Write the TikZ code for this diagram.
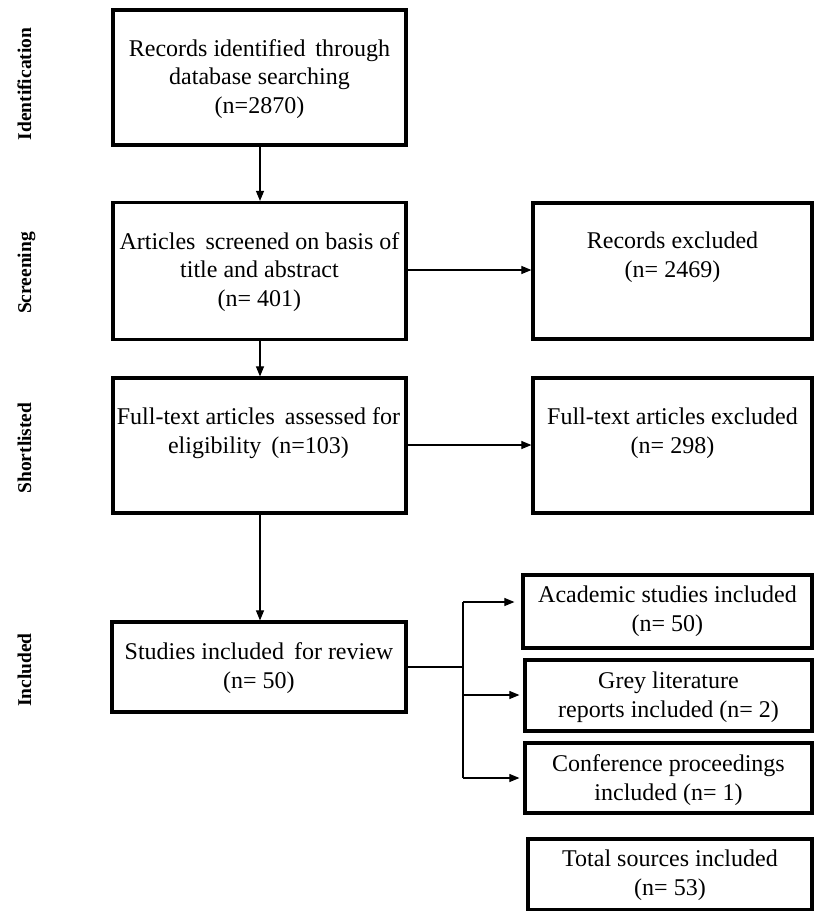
\documentclass[tikz,border=0pt]{standalone}
\usepackage{fontspec}
\setmainfont{Liberation Serif}
\usetikzlibrary{arrows.meta}
\begin{document}
\begin{tikzpicture}[x=1pt,y=-1pt,
  box/.style={draw=black,line width=3.2pt,minimum width=#1,inner sep=0pt},
  boxtext/.style={align=center,font=\fontsize{24}{28.5}\selectfont,inner sep=0pt},
  phase/.style={rotate=90,anchor=base,font=\fontsize{19.5}{22}\selectfont\bfseries,inner sep=0pt},
  flow/.style={line width=1.1pt,-{Triangle[length=10pt,width=8pt]}},
  link/.style={line width=1.1pt}]
\useasboundingbox (0,0) rectangle (814,911);

% phase labels
\node[phase] (lid) at (31,84) {Identification};
\node[phase] (lsc) at (31,273) {Screening};
\node[phase] (lsh) at (31,448) {Shortlisted};
\node[phase] (lin) at (31,670) {Included};

% main column
\node[box=293pt,minimum height=135pt] (ident) at (259.5,77.5) {};
\node[boxtext] (tident) at (259.5,79) {Records identified\, through\\database searching\\(n=2870)};

\node[box=293pt,minimum height=137pt] (screen) at (259.5,271) {};
\node[boxtext] (tscreen) at (259.5,272) {Articles\, screened on basis of\\title and abstract\\(n= 401)};

\node[box=293pt,minimum height=135pt] (short) at (259.5,445.5) {};
\node[boxtext] (tshort) at (258.5,433) {Full-text articles\, assessed for\\eligibility\, (n=103)};

\node[box=294pt,minimum height=90pt] (incl) at (259,667) {};
\node[boxtext] (tincl) at (259,668) {Studies included\, for review\\(n= 50)};

% exclusions
\node[box=279pt,minimum height=136pt] (excl) at (672.5,271) {};
\node[boxtext] (texcl) at (672.5,257) {Records excluded\\(n= 2469)};

\node[box=279pt,minimum height=135pt] (fexcl) at (672.5,445.5) {};
\node[boxtext] (tfexcl) at (672.5,433) {Full-text articles excluded\\(n= 298)};

% included sources
\node[box=289pt,minimum height=73pt] (acad) at (667.5,611.5) {};
\node[boxtext] (tacad) at (667.5,611) {Academic studies included\\(n= 50)};

\node[box=287pt,minimum height=71pt] (grey) at (668.5,695.5) {};
\node[boxtext] (tgrey) at (668.5,697) {Grey literature\\reports included (n= 2)};

\node[box=287pt,minimum height=70pt] (conf) at (668.5,778) {};
\node[boxtext] (tconf) at (668.5,780) {Conference proceedings\\included (n= 1)};

\node[box=284pt,minimum height=71pt] (total) at (670,874.5) {};
\node[boxtext] (ttotal) at (670,875) {Total sources included\\(n= 53)};

% connectors
\draw[flow] (ident.south -| 260,0) -- (screen.north -| 260,0);
\draw[flow] (screen.south -| 260,0) -- (short.north -| 260,0);
\draw[flow] (short.south -| 260,0) -- (incl.north -| 260,0);
\draw[flow] (screen.east |- 0,270) -- (excl.west |- 0,270);
\draw[flow] (short.east |- 0,445) -- (fexcl.west |- 0,445);

\coordinate (split) at (463,667);
\draw[link] (incl.east |- split) -- (split);
\draw[link] (463,602) -- (463,778);
\draw[flow,shorten >=7pt] (463,602) -- (acad.west |- 0,602);
\draw[flow,shorten >=4pt] (463,695) -- (grey.west |- 0,695);
\draw[flow,shorten >=4pt] (463,778) -- (conf.west |- 0,778);
\end{tikzpicture}
\end{document}
